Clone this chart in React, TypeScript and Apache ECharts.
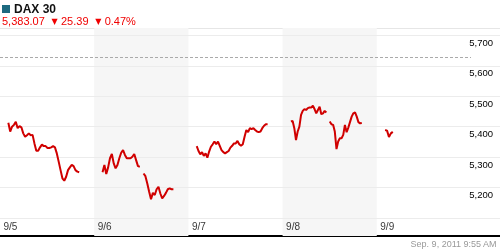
import React, { useEffect, useRef } from "react";
import * as echarts from "echarts";

// ---- data ----
const DAY_LABELS = ["9/5", "9/6", "9/7", "9/8", "9/9"];
const SESSION_START_HOUR = 9;
const SESSION_END_HOURS = [17.5, 17.5, 17.5, 17.5, 9 + 55 / 60];

const DAY1 = [5413, 5384, 5400, 5406, 5416, 5395, 5402, 5398, 5378, 5367, 5372, 5378, 5372, 5373,
  5345, 5321, 5321, 5332, 5341, 5336, 5336, 5330, 5330, 5332, 5336, 5332, 5312, 5285, 5257, 5230,
  5222, 5235, 5257, 5266, 5274, 5270, 5257, 5252, 5250];
const DAY2 = [5250, 5274, 5244, 5266, 5296, 5310, 5279, 5263, 5274, 5296, 5314, 5323, 5307, 5296,
  5296, 5296, 5301, 5310, 5290, 5270, 5268, null, 5246, 5237, 5213, 5186, 5161, 5182, 5175, 5194,
  5202, 5180, 5164, 5172, 5182, 5194, 5197, 5194, 5194];
const DAY3 = [5336, 5320, 5309, 5316, 5304, 5312, 5298, 5318, 5334, 5342, 5351, 5342, 5351, 5337,
  5323, 5316, 5312, 5316, 5320, 5331, 5337, 5345, 5345, 5353, 5342, 5337, 5342, 5367, 5389, 5382,
  5395, 5392, 5395, 5389, 5384, 5382, 5384, 5395, 5403, 5408, 5408];
const DAY4 = [5417, 5419, 5395, 5356, 5384, 5400, 5439, 5452, 5458, 5455, 5461, 5463, 5463, 5469,
  5458, 5444, 5455, 5466, 5441, 5444, 5452, 5447, null, 5417, 5408, 5406, 5384, 5326, 5351, 5362,
  5362, 5373, 5406, 5382, 5397, 5415, 5433, 5444, 5447, 5433, 5415, 5411, 5412];
const DAY5 = [5389, 5387, 5366, 5378, 5383];
const DAYS = [DAY1, DAY2, DAY3, DAY4, DAY5];

const Y_TICKS = [5100, 5200, 5300, 5400, 5500, 5600, 5700];
const Y_MIN = 5040;
const Y_MAX = 5725;
const REF_LEVEL = 5628;
const LAST_PRICE = "5,383.07";
const CHANGE = "25.39";
const CHANGE_PCT = "0.47%";
const TITLE = "DAX 30";
const STAMP = "Sep. 9, 2011 9:55 AM";

// layout of the time axis (one unit = one day)
const AXIS_DAY_START_HOUR = 8;
const AXIS_DAY_SPAN_HOURS = 11.3;

function buildSeries() {
  const pts: (number | null)[][] = [];
  DAYS.forEach((vals, d) => {
    const n = vals.length;
    const h0 = SESSION_START_HOUR;
    const h1 = SESSION_END_HOURS[d];
    vals.forEach((v, i) => {
      const h = h0 + ((h1 - h0) * i) / (n - 1);
      const x = d + (h - AXIS_DAY_START_HOUR) / AXIS_DAY_SPAN_HOURS;
      pts.push([x, v]);
    });
    pts.push([d + 0.95, null]);
  });
  return pts;
}

const fmt = (v: number) => v.toLocaleString("en-US");
const FONT = "Liberation Sans, Arial, sans-serif";

export default function App() {
  const ref = useRef<HTMLDivElement>(null);
  useEffect(() => {
    if (!ref.current) return;
    const chart = echarts.init(ref.current, null, { renderer: "svg" });
    const xMax = 500 / 94.2;
    chart.setOption({
      animation: false,
      textStyle: { fontFamily: FONT },
      grid: { left: 0, right: 0, top: 28, bottom: 14 },
      xAxis: [
        {
          type: "value",
          min: 0,
          max: xMax,
          interval: 1,
          axisLine: { show: true, onZero: false, lineStyle: { color: "#000", width: 2 } },
          axisTick: { show: false },
          splitLine: { show: false },
          axisLabel: { show: false },
        },
        {
          type: "value",
          position: "top",
          min: 0,
          max: xMax,
          axisLine: { show: true, lineStyle: { color: "#e6e6e6", width: 1 } },
          axisTick: { show: false },
          axisLabel: { show: false },
          splitLine: { show: false },
        },
      ],
      yAxis: {
        type: "value",
        min: Y_MIN,
        max: Y_MAX,
        show: false,
        splitLine: { show: false },
      },
      series: [
        {
          type: "line",
          data: buildSeries(),
          showSymbol: false,
          connectNulls: false,
          lineStyle: { color: "#d00000", width: 2 },
          itemStyle: { color: "#d00000" },
          z: 5,
          markArea: {
            silent: true,
            itemStyle: { color: "#f6f6f6" },
            data: [
              [{ xAxis: 1 }, { xAxis: 2 }],
              [{ xAxis: 3 }, { xAxis: 4 }],
            ],
          },
          markLine: {
            silent: true,
            symbol: "none",
            animation: false,
            data: [
              ...Y_TICKS.map((t) => ({
                yAxis: t,
                lineStyle: { color: "#ececec", width: 1, type: "solid" },
                label: {
                  show: t !== 5100,
                  position: "insideEndBottom",
                  formatter: fmt(t),
                  color: "#000",
                  fontSize: 9.5,
                  fontFamily: FONT,
                  distance: [7, 2],
                },
              })),
              [
                { coord: [0, REF_LEVEL], lineStyle: { color: "#aaaaaa", width: 1, type: [3, 2] }, label: { show: false } },
                { coord: [5, REF_LEVEL] },
              ],
            ],
          },
        },
        {
          type: "scatter",
          silent: true,
          clip: false,
          symbol: "rect",
          symbolSize: 1,
          itemStyle: { color: "rgba(0,0,0,0)" },
          data: DAY_LABELS.map((_, d) => [d, Y_MIN]),
          label: {
            show: true,
            position: [4, -14],
            align: "left",
            verticalAlign: "top",
            color: "#000",
            fontSize: 10,
            fontFamily: FONT,
            formatter: (p: any) => DAY_LABELS[p.dataIndex],
          },
          z: 6,
        },
      ],
      graphic: [
        { type: "rect", shape: { x: 2, y: 5, width: 8, height: 8 }, style: { fill: "#1d6a80" } },
        {
          type: "text",
          x: 14,
          y: 9,
          style: {
            text: TITLE,
            font: `bold 12px "Liberation Sans Narrow", ${FONT}`,
            fill: "#111",
            verticalAlign: "middle",
          },
        },
        {
          type: "text",
          x: 2,
          y: 21,
          style: {
            text: `{v|${LAST_PRICE}}  {t|▼} {v|${CHANGE}}  {t|▼} {v|${CHANGE_PCT}}`,
            verticalAlign: "middle",
            rich: {
              v: { fontSize: 11, fontFamily: FONT, fill: "#f00000" },
              t: { fontSize: 8, fontFamily: "DejaVu Sans", fill: "#f00000" },
            },
          },
        },
        {
          type: "text",
          right: 3,
          top: 239,
          style: { text: STAMP, font: `9px ${FONT}`, fill: "#999" },
        },
      ],
    });
    return () => chart.dispose();
  }, []);
  return (
    <div
      ref={ref}
      style={{ position: "fixed", left: 0, top: 0, width: 500, height: 250 }}
    />
  );
}
